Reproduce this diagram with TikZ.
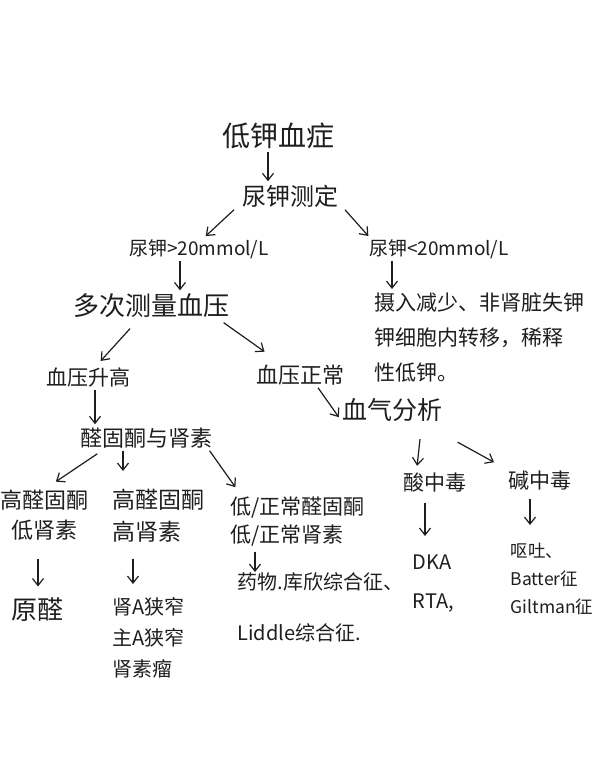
\documentclass[tikz,border=0pt]{standalone}
\usepackage{fontspec}
\newfontfamily\cjk{Noto Sans CJK SC}
\usetikzlibrary{arrows.meta}

\definecolor{ink}{HTML}{1E1E1E}
\tikzset{
  txt/.style 2 args={font=\cjk\fontsize{#1}{#2}\selectfont, text=ink, inner sep=2pt},
  lft/.style={align=left, anchor=north west},
}

\begin{document}
\begin{tikzpicture}[->,>={Straight Barb[length=7pt,width=11pt]},shorten >=1pt,x=1pt,y=-1pt,line width=1.2pt,draw=ink]
			\useasboundingbox[fill=white] (0,0) rectangle (600,765);

			\node[txt={28}{34}] (low)  at (278,136) {低钾血症};
			\node[txt={24}{30}] (ukm)  at (290,196) {尿钾测定};
			\node[txt={19}{24}] (ukhi) at (199,249) {尿钾>20mmol/L};
			\node[txt={19}{24}] (uklo) at (439,249) {尿钾<20mmol/L};
			\node[txt={26}{32}] (bpm)  at (151,306) {多次测量血压};
			\node[txt={21}{35},lft] (nonr) at (372,290) {摄入减少、非肾脏失钾\\钾细胞内转移，稀释\\性低钾。};
			\node[txt={21}{26}] (bphi) at (88,378)  {血压升高};
			\node[txt={22}{28}] (bpn)  at (300,375) {血压正常};
			\node[txt={22}{28}] (ald)  at (146,438) {醛固酮与肾素};
			\node[txt={25}{30}] (abg)  at (392,410) {血气分析};
			\node[txt={21}{26}] (acid) at (435,483) {酸中毒};
			\node[txt={21}{26}] (alk)  at (540,481) {碱中毒};

			\node[txt={22}{30},align=center] (hl) at (44,515) {高醛固酮\\低肾素};
			\node[txt={23}{32},lft] (hh)   at (110,487) {高醛固酮\\高肾素};
			\node[txt={21}{28},lft] (nn)   at (228,494) {低/正常醛固酮\\低/正常肾素};
			\node[txt={26}{32}] (pa)   at (37,610)  {原醛};
			\node[txt={20}{31},lft] (ras)  at (110,595) {肾A狭窄\\主A狭窄\\肾素瘤};
			\node[txt={20}{51},lft] (drug) at (235,570) {药物.库欣综合征、\\Liddle综合征.};
			\node[txt={20}{39},lft] (dka)  at (410,552) {DKA\\RTA,};
			\node[txt={17.5}{28},lft] (vom)  at (508,540) {呕吐、\\Batter征\\Giltman征};

			\path
			([xshift=-10pt]low.south) edge ([xshift=-22pt]ukm.north)
			([xshift=-56pt]ukm.south) edge ([xshift=6pt]ukhi.north)
			([xshift=55pt]ukm.south)  edge ([xshift=-70pt]uklo.north)
			([xshift=-19pt]ukhi.south) edge ([xshift=29pt]bpm.north)
			([xshift=-47pt]uklo.south) edge ([xshift=20pt]nonr.north west)
			([xshift=-21pt,yshift=-8pt]bpm.south) edge ([xshift=12pt,yshift=4pt]bphi.north)
			([xshift=-8pt,yshift=-2pt]bpm.south east) edge ([xshift=12pt,yshift=10pt]bpn.north west)
			([xshift=7pt]bphi.south) edge ([xshift=-51pt]ald.north)
			([xshift=18pt]bpn.south) edge ([yshift=-8pt]abg.west)
			([xshift=28pt,yshift=-15pt]abg.south) edge ([xshift=-18pt,yshift=4pt]acid.north)
			([xshift=13pt,yshift=-18pt]abg.south east) edge ([xshift=-11pt,yshift=6pt]alk.north west)
			([xshift=20pt,yshift=-3pt]ald.south west) edge ([xshift=11pt,yshift=5pt]hl.north)
			([xshift=-23pt]ald.south) edge ([xshift=13pt,yshift=15pt]hh.north west)
			([xshift=-5pt]ald.south east) edge ([xshift=8pt,yshift=6pt]nn.north west)
			([xshift=-6pt,yshift=-16pt]hl.south) edge ([xshift=1pt,yshift=8pt]pa.north)
			([xshift=23pt,yshift=-14pt]hh.south west) edge ([xshift=23pt,yshift=10pt]ras.north west)
			([xshift=27pt,yshift=-3pt]nn.south west) edge ([xshift=20pt,yshift=-3pt]drug.north west)
			([xshift=-10pt,yshift=-8pt]acid.south) edge ([xshift=15pt,yshift=15pt]dka.north west)
			([xshift=-10pt,yshift=-6pt]alk.south) edge ([xshift=22pt,yshift=14pt]vom.north west);
\end{tikzpicture}
\end{document}
